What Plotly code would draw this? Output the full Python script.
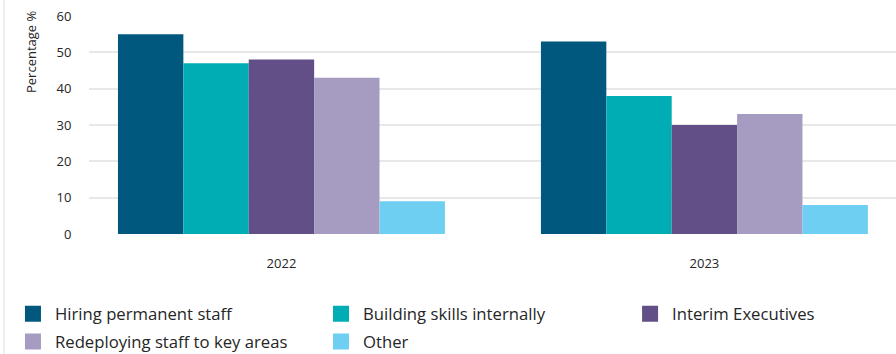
import plotly.graph_objects as go

# Survey results: share of respondents by approach, per year
years = ["2022", "2023"]
series_names = [
    "Hiring permanent staff",
    "Building skills internally",
    "Interim Executives",
    "Redeploying staff to key areas",
    "Other",
]
hiring = [55, 53]
building = [47, 38]
interim = [48, 30]
redeploying = [43, 33]
other = [9, 8]
y_ticks = [0, 10, 20, 30, 40, 50, 60]

series_values = [hiring, building, interim, redeploying, other]
colors = ["#01587F", "#00ADB5", "#634F87", "#A69CC1", "#6ECFF2"]
legend_ids = ["legend", "legend2", "legend3", "legend", "legend2"]

FONT = "Open Sans"
TEXT = "#262626"

fig = go.Figure()

for name, vals, col in zip(series_names, series_values, colors):
    fig.add_trace(go.Bar(
        x=years, y=vals, name=name,
        marker=dict(color=col, line=dict(width=0)),
        showlegend=False,
    ))

# Legend entries with larger square swatches, laid out in three columns
for i, (name, col, lg) in enumerate(zip(series_names, colors, legend_ids)):
    fig.add_trace(go.Scatter(
        x=[None], y=[None], mode="markers", name=name,
        marker=dict(symbol="square", size=16, color=col),
        legend=lg, legendgroup=f"g{i}", showlegend=True,
    ))

legend_common = dict(
    orientation="v", xanchor="left", yanchor="top",
    font=dict(family=FONT, size=16.7, color=TEXT),
    bgcolor="rgba(0,0,0,0)", itemwidth=34, tracegroupgap=3,
    itemsizing="trace",
)

fig.update_layout(
    width=896, height=354,
    margin=dict(l=89, r=0, t=16, b=120, autoexpand=False),
    paper_bgcolor="white", plot_bgcolor="white",
    barmode="group", bargap=0.227, bargroupgap=0,
    font=dict(family=FONT, size=13, color=TEXT),
    xaxis=dict(
        type="category", range=[-0.455, 1.453],
        showgrid=False, zeroline=False, showline=False,
        ticks="outside", ticklen=17, tickcolor="rgba(0,0,0,0)",
        tickfont=dict(family=FONT, size=13, color=TEXT),
    ),
    yaxis=dict(
        range=[0, 60], tickvals=y_ticks,
        showgrid=True, gridcolor="#E8E8E8", gridwidth=2,
        zeroline=False, showline=False,
        ticks="outside", ticklen=14, tickcolor="rgba(0,0,0,0)",
        tickfont=dict(family=FONT, size=13, color=TEXT),
    ),
    legend=dict(x=-0.0967, y=-0.286, **legend_common),
    legend2=dict(x=0.285, y=-0.286, **legend_common),
    legend3=dict(x=0.668, y=-0.286, **legend_common),
    annotations=[dict(
        text="Percentage %", textangle=-90,
        xref="paper", yref="paper",
        x=(31 - 89) / 807, y=1 + (16 - 51) / 218,
        xanchor="center", yanchor="middle", showarrow=False,
        font=dict(family=FONT, size=13, color=TEXT),
    )],
    shapes=[dict(
        type="line", xref="paper", yref="paper",
        x0=(4 - 89) / 807, x1=(4 - 89) / 807, y0=-0.55, y1=1.08,
        line=dict(color="#EBEBEB", width=1.5),
    )],
)

fig.write_html("out.html")
